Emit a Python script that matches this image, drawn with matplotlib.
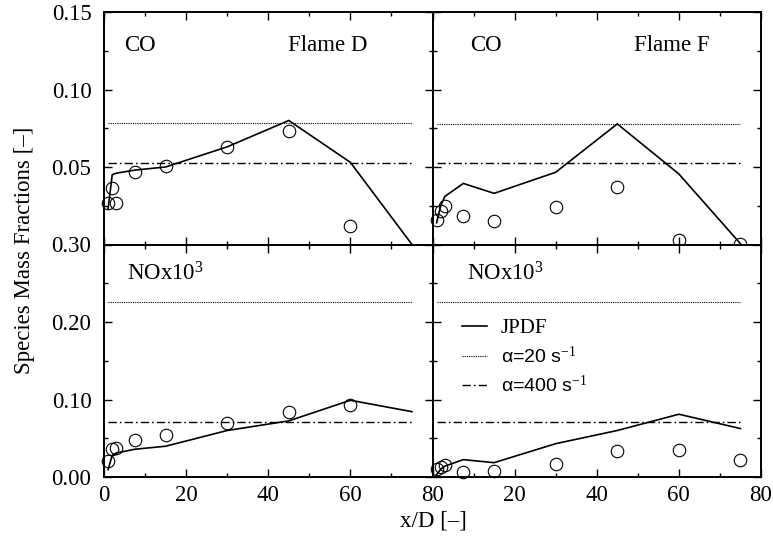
import matplotlib
matplotlib.use("Agg")
import matplotlib.pyplot as plt
from matplotlib.ticker import MultipleLocator, FixedLocator
from matplotlib.lines import Line2D

plt.rcParams['font.family'] = ['Liberation Serif', 'DejaVu Serif']
plt.rcParams['mathtext.fontset'] = 'custom'
plt.rcParams['mathtext.rm'] = 'Liberation Serif'
plt.rcParams['mathtext.it'] = 'Liberation Serif:italic'

# ---- data ----
x_stations = [1, 2, 3, 7.5, 15, 30, 45, 60, 75]

co_d_jpdf = [0.023, 0.045, 0.046, 0.048, 0.050, 0.063, 0.080, 0.053, 0.0]
co_d_exp_x = [1, 2, 3, 7.5, 15, 30, 45, 60]
co_d_exp = [0.0265, 0.0366, 0.0265, 0.0466, 0.0509, 0.0627, 0.0735, 0.0119]
co_d_a20 = 0.0782
co_d_a400 = 0.0526

co_f_jpdf = [0.014, 0.025, 0.031, 0.0394, 0.033, 0.0466, 0.0778, 0.0455, 0.0005]
co_f_exp = [0.0157, 0.0218, 0.0248, 0.0185, 0.0151, 0.0239, 0.0373, 0.0032, 0.0006]
co_f_a20 = 0.078
co_f_a400 = 0.0524

no_d_jpdf = [0.0095, 0.028, 0.031, 0.0358, 0.0397, 0.060, 0.0724, 0.099, 0.0843]
no_d_exp_x = [1, 2, 3, 7.5, 15, 30, 45, 60]
no_d_exp = [0.0203, 0.0358, 0.0375, 0.0474, 0.0547, 0.0698, 0.084, 0.0935]
no_d_a20 = 0.2263
no_d_a400 = 0.0711

no_f_jpdf = [0.003, 0.010, 0.014, 0.0224, 0.0185, 0.043, 0.060, 0.081, 0.0625]
no_f_exp = [0.0108, 0.0129, 0.016, 0.0065, 0.0073, 0.0164, 0.0336, 0.0345, 0.0216]
no_f_a20 = 0.2263
no_f_a400 = 0.0711

x_ticks = [0, 20, 40, 60, 80]
co_ticks = [0.00, 0.05, 0.10, 0.15]
no_ticks = [0.00, 0.10, 0.20, 0.30]

FS = 16.5
dotted = (0, (1, 1))
dashdot = (0, (6, 2.2, 1.2, 2.2))

fig = plt.figure(figsize=(7.73, 5.42), dpi=100)
left, right = 104 / 773, 761 / 773
top, bottom = 1 - 12 / 542, 1 - 477 / 542
gs = fig.add_gridspec(2, 2, left=left, right=right, top=top, bottom=bottom,
                      hspace=0, wspace=0)
axes = [[fig.add_subplot(gs[r, c]) for c in range(2)] for r in range(2)]

panels = [
    (axes[0][0], co_d_jpdf, co_d_exp_x, co_d_exp, co_d_a20, co_d_a400),
    (axes[0][1], co_f_jpdf, x_stations, co_f_exp, co_f_a20, co_f_a400),
    (axes[1][0], no_d_jpdf, no_d_exp_x, no_d_exp, no_d_a20, no_d_a400),
    (axes[1][1], no_f_jpdf, x_stations, no_f_exp, no_f_a20, no_f_a400),
]

for ax, jp, ex_x, ex_y, a20, a400 in panels:
    ax.plot(x_stations, jp, color='black', lw=1.2, solid_joinstyle='miter')
    ax.plot(ex_x, ex_y, linestyle='none', marker='o', ms=9,
            mfc='none', mec='black', mew=0.8, clip_on=False)
    ax.plot([x_stations[0], x_stations[-1]], [a20, a20], color='black',
            lw=0.8, linestyle=dotted)
    ax.plot([x_stations[0], x_stations[-1]], [a400, a400], color='black',
            lw=1.0, linestyle=dashdot)
    ax.set_xlim(0, 80)
    ax.xaxis.set_major_locator(FixedLocator(x_ticks))
    ax.xaxis.set_minor_locator(MultipleLocator(10))
    ax.tick_params(which='both', direction='in', top=True, right=True,
                   labelsize=FS, width=1.0)
    ax.tick_params(which='major', length=6)
    ax.tick_params(which='minor', length=3)
    ax.tick_params(axis='y', pad=9)
    ax.tick_params(axis='x', pad=6)
    for s in ax.spines.values():
        s.set_linewidth(1.4)

for c in range(2):
    ax = axes[0][c]
    ax.set_ylim(0, 0.15)
    ax.yaxis.set_major_locator(FixedLocator(co_ticks))
    ax.yaxis.set_minor_locator(MultipleLocator(0.025))
    ax.set_xticklabels([])
    ax = axes[1][c]
    ax.set_ylim(0, 0.30)
    ax.yaxis.set_major_locator(FixedLocator(no_ticks))
    ax.yaxis.set_minor_locator(MultipleLocator(0.05))

axes[0][0].set_yticklabels([''] + ['%.2f' % v for v in co_ticks[1:]])
axes[1][0].set_yticklabels(['%.2f' % v for v in no_ticks])
axes[0][1].set_yticklabels([])
axes[1][1].set_yticklabels([])
axes[1][0].set_xticklabels([str(v) for v in x_ticks])
axes[1][1].set_xticklabels([''] + [str(v) for v in x_ticks[1:]])

# annotations
axes[0][0].text(5.0, 0.1287, 'CO', fontsize=FS, va='center', ha='left')
axes[0][0].text(44.8, 0.1287, 'Flame D', fontsize=FS, va='center', ha='left')
axes[0][1].text(9.2, 0.1287, 'CO', fontsize=FS, va='center', ha='left')
axes[0][1].text(49.0, 0.1287, 'Flame F', fontsize=FS, va='center', ha='left')
axes[1][0].text(5.6, 0.262, r'NOx10$^{3}$', fontsize=FS, va='center', ha='left')
axes[1][1].text(8.4, 0.262, r'NOx10$^{3}$', fontsize=FS, va='center', ha='left')

handles = [Line2D([], [], color='black', lw=1.2),
           Line2D([], [], color='black', lw=0.8, linestyle=dotted),
           Line2D([], [], color='black', lw=1.0, linestyle=dashdot)]
labels = ['JPDF', r'α=20 s$^{-1}$', r'α=400 s$^{-1}$']
leg = axes[1][1].legend(handles, labels, loc='upper left',
                        bbox_to_anchor=(0.091, 0.68), frameon=False,
                        fontsize=15, handlelength=1.2, handletextpad=0.65,
                        labelspacing=0.37, borderpad=0, borderaxespad=0)
for i, t in enumerate(leg.get_texts()):
    if i > 0:
        t.set_fontfamily(['Liberation Sans', 'DejaVu Sans'])
        t.set_fontsize(14)

fig.text(25 / 773, 1 - 250 / 542, 'Species Mass Fractions [–]', rotation=90,
         fontsize=FS, ha='center', va='center')
fig.text(433 / 773, 1 - 521 / 542, 'x/D [–]', fontsize=FS, ha='center',
         va='center')

fig.savefig('out.png', dpi=100)
